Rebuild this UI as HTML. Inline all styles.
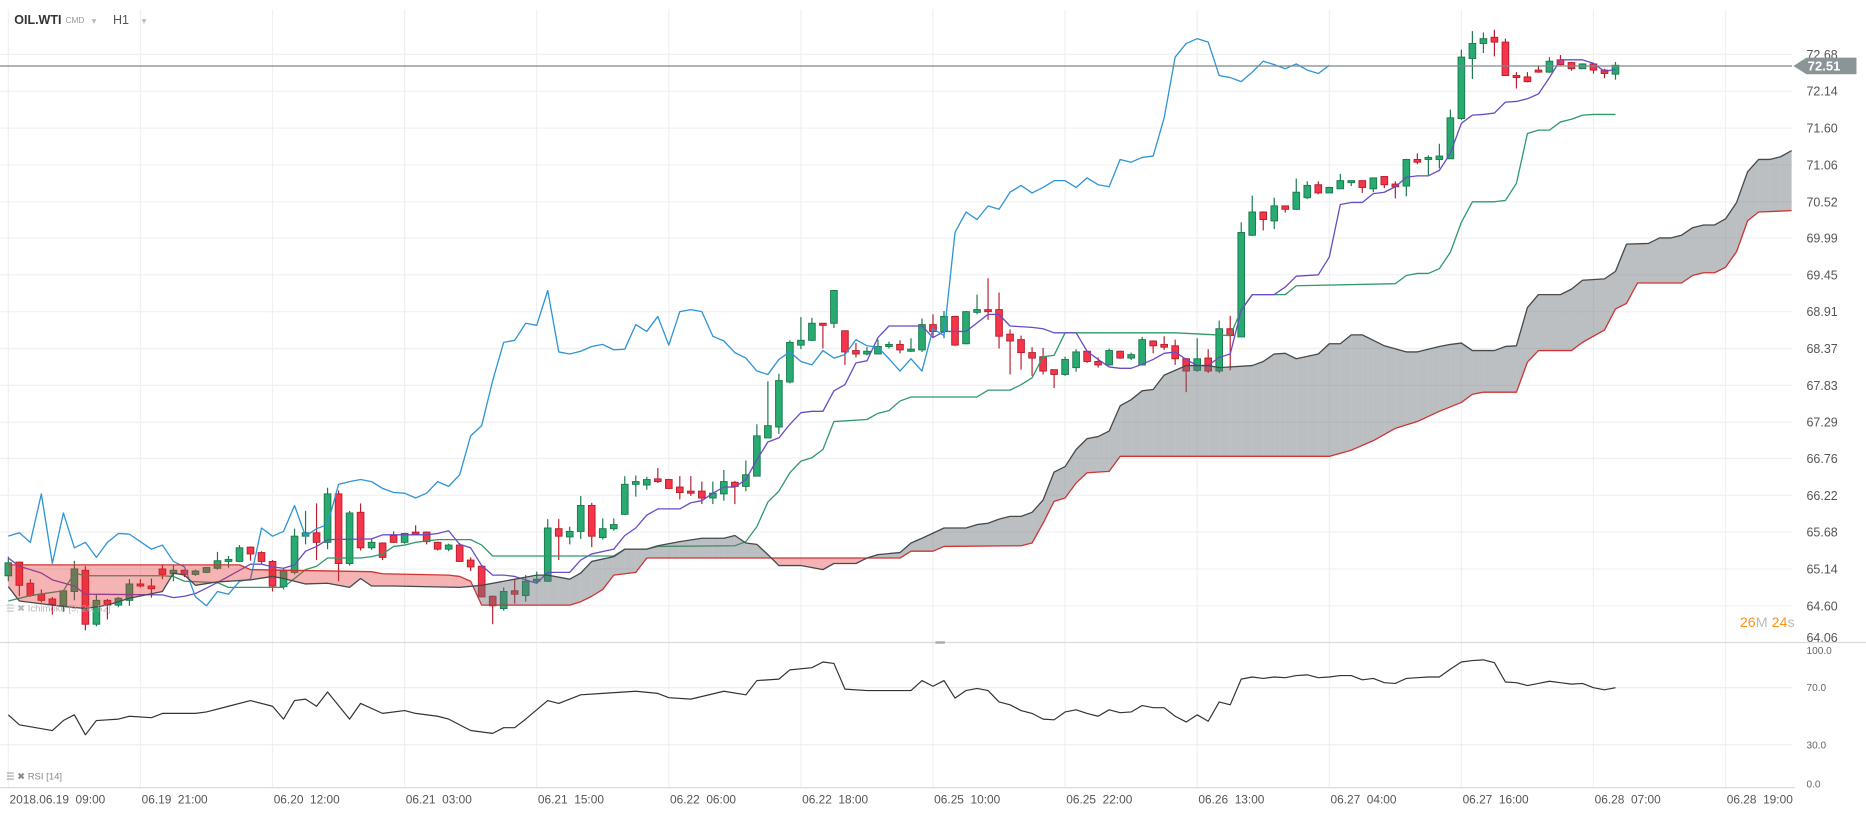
<!DOCTYPE html>
<html><head><meta charset="utf-8"><style>
html,body{margin:0;padding:0;background:#fff;overflow:hidden}
svg{display:block;font-family:"Liberation Sans",sans-serif}
</style></head><body>
<svg id="chart" width="1866" height="815" viewBox="0 0 1568 685" preserveAspectRatio="none" xmlns="http://www.w3.org/2000/svg">
<defs><clipPath id="plotClip"><rect x="0" y="22" width="1506" height="518"/></clipPath></defs>
<rect x="0" y="0" width="1568" height="685" fill="#fff"/>
<g>
<text x="12" y="20" font-size="10.5" font-weight="bold" fill="#333">OIL.WTI</text>
<text x="55" y="19.5" font-size="7" fill="#999">CMD</text>
<text x="77" y="20" font-size="8" fill="#bbb">▾</text>
<text x="95" y="20" font-size="10.5" fill="#555">H1</text>
<text x="119" y="20" font-size="8" fill="#bbb">▾</text>
</g>
<g id="grid"></g>
<g id="plot" clip-path="url(#plotClip)"></g>
<g id="rsi"></g>
<g id="axes"></g>
<line x1="0" y1="540" x2="1568" y2="540" stroke="#dcdcdc" stroke-width="1"/>
<rect x="786" y="539" width="8" height="2" fill="#aaa"/>
<line x1="0" y1="662" x2="1508" y2="662" stroke="#dcdcdc" stroke-width="1"/>
<text x="5" y="514" font-size="8" fill="#aaa" opacity="0.85">☰ ✖ Ichimoku [9, 26, 52]</text>
<text x="5" y="655" font-size="8" fill="#888">☰ ✖ RSI [14]</text>
<text x="1462" y="527" font-size="12"><tspan fill="#f7931e">26</tspan><tspan fill="#bbb">M </tspan><tspan fill="#f7931e">24</tspan><tspan fill="#bbb">s</tspan></text>
</svg>
<script>
const opens=[65.04,65.24,64.93,64.77,64.70,64.60,64.81,65.12,64.33,64.68,64.61,64.68,64.92,64.89,65.14,65.07,65.12,65.06,65.09,65.15,65.25,65.25,65.46,65.38,65.25,64.88,65.09,65.62,65.67,65.53,66.24,65.22,65.97,65.45,65.52,65.63,65.53,65.68,65.68,65.53,65.43,65.49,65.27,65.18,64.74,64.56,64.82,64.75,64.96,64.96,65.73,
65.61,65.69,66.07,65.60,65.73,65.94,66.38,66.37,66.46,66.45,66.34,66.28,66.28,66.18,66.24,66.41,66.35,66.50,67.06,67.22,67.88,68.42,68.49,68.74,68.74,68.63,68.34,68.29,68.29,68.40,68.43,68.33,68.35,68.72,68.62,68.84,68.44,68.90,68.94,68.94,68.58,68.50,68.31,68.25,68.06,67.99,68.09,68.33,68.18,68.13,68.33,68.23,68.13,68.48,68.43,68.41,68.22,68.05,68.23,68.04,68.66,
68.54,70.03,70.37,70.24,70.46,70.41,70.58,70.77,70.65,70.71,70.80,70.83,70.71,70.89,70.78,70.75,71.14,71.14,71.14,71.15,71.74,72.62,72.84,72.93,72.86,72.37,72.35,72.45,72.42,72.60,72.56,72.47,72.54,72.45,72.39];
const highs=[65.32,65.25,64.99,64.84,64.73,64.83,65.26,65.18,64.77,64.70,64.73,64.99,64.99,65.00,65.20,65.20,65.13,65.13,65.17,65.39,65.33,65.49,65.47,65.40,65.27,65.16,65.73,65.99,66.10,66.33,66.29,65.99,66.10,65.58,65.53,65.69,65.67,65.78,65.69,65.54,65.51,65.52,65.31,65.20,64.75,64.87,64.98,65.05,65.10,65.87,65.87,
65.76,66.21,66.11,65.88,65.88,66.50,66.51,66.49,66.62,66.46,66.50,66.50,66.42,66.42,66.59,66.43,66.73,67.26,67.89,68.00,68.49,68.83,68.82,68.74,69.23,68.63,68.45,68.39,68.50,68.47,68.49,68.52,68.81,68.87,68.92,68.85,68.92,69.16,69.40,69.19,68.65,68.56,68.39,68.38,68.06,68.25,68.36,68.34,68.24,68.37,68.34,68.31,68.54,68.49,68.55,68.50,68.23,68.52,68.36,68.78,68.85,
70.22,70.61,70.38,70.58,70.46,70.86,70.82,70.82,70.74,70.93,70.83,70.83,70.87,70.89,70.82,71.15,71.23,71.20,71.37,71.87,72.75,73.02,73.00,73.04,72.91,72.42,72.42,72.52,72.64,72.67,72.57,72.55,72.55,72.47,72.57];
const lows=[64.96,64.74,64.73,64.65,64.47,64.51,64.68,64.24,64.30,64.40,64.58,64.60,64.87,64.72,64.99,64.96,65.02,65.04,65.08,65.13,65.16,65.24,65.26,65.22,64.81,64.84,65.06,65.50,65.27,65.43,64.96,65.19,65.41,65.42,65.27,65.52,65.51,65.64,65.50,65.41,65.40,65.25,65.11,64.73,64.33,64.53,64.63,64.66,64.93,64.95,65.27,
65.50,65.58,65.46,65.57,65.70,65.93,66.20,66.30,66.40,66.31,66.16,66.21,66.09,66.09,66.14,66.09,66.28,66.50,67.06,67.12,67.86,68.36,68.48,68.37,68.67,68.13,68.24,68.27,68.29,68.37,68.30,68.32,68.32,68.54,68.52,68.41,68.43,68.87,68.79,68.37,67.99,68.06,67.97,67.99,67.79,67.97,68.03,68.16,68.09,68.12,68.22,68.20,68.12,68.30,68.35,68.13,67.73,68.03,68.01,68.01,68.05,
68.54,70.02,70.10,70.12,70.36,70.40,70.56,70.63,70.65,70.71,70.75,70.65,70.66,70.72,70.57,70.60,71.07,70.91,71.01,71.15,71.72,72.32,72.70,72.65,72.37,72.18,72.27,72.41,72.41,72.52,72.44,72.47,72.40,72.33,72.31];
const closes=[65.23,64.90,64.75,64.68,64.62,64.82,65.14,64.33,64.68,64.61,64.71,64.92,64.89,64.85,65.06,65.12,65.06,65.11,65.16,65.26,65.28,65.45,65.36,65.25,64.89,65.11,65.62,65.67,65.53,66.24,65.22,65.96,65.45,65.53,65.31,65.53,65.66,65.65,65.54,65.43,65.49,65.25,65.17,64.73,64.60,64.81,64.77,64.96,64.99,65.74,65.62,
65.69,66.07,65.62,65.73,65.79,66.38,66.42,66.45,66.42,66.32,66.26,66.25,66.18,66.25,66.42,66.35,66.52,67.09,67.24,67.90,68.46,68.49,68.74,68.71,69.22,68.32,68.29,68.33,68.40,68.43,68.35,68.36,68.72,68.62,68.84,68.42,68.91,68.94,68.91,68.55,68.48,68.31,68.23,68.04,67.99,68.21,68.32,68.18,68.13,68.34,68.23,68.28,68.50,68.41,68.39,68.22,68.04,68.22,68.04,68.66,68.56,
70.07,70.37,70.26,70.46,70.41,70.66,70.76,70.65,70.73,70.83,70.83,70.73,70.87,70.77,70.74,71.14,71.10,71.17,71.19,71.75,72.64,72.84,72.91,72.86,72.37,72.34,72.28,72.42,72.58,72.53,72.47,72.54,72.45,72.40,72.52];

const tenkanIdx=[0,1,3,4,6,7,14,15,16,17,18,19,20,21,22,23,24,25,26,27,28,29,33,34,38,39,40,41,42,43,44,45,46,47,48,49,51,52,53,55,56,57,58,59,61,62,63,64,65,66,67,68,69,70,71,72,73,74,75,76,77,78,79,80,83,84,85,87,89,90,91,93,94,95,97,98,99,100,101,102,103,104,105,106,107,108,109,110,111,112,113,115,116,117,119,120,121,122,123,124,125,126,127,128,129,130,131,132,133,134,135,136,137,138,139,140,141,143,144,145,146];
const tenkanVal=[65.30,65.18,65.08,64.98,64.89,64.77,64.76,64.72,64.74,64.78,64.86,64.94,65.03,65.12,65.21,65.21,65.17,65.15,65.20,65.40,65.47,65.57,65.58,65.64,65.64,65.66,65.70,65.50,65.45,65.19,65.05,65.05,65.03,64.98,64.93,65.09,65.09,65.27,65.36,65.43,65.63,65.74,65.93,66.02,66.02,66.11,66.14,66.25,66.34,66.34,66.45,66.74,67.00,67.06,67.26,67.43,67.45,67.45,67.75,67.84,68.16,68.19,68.53,68.70,68.70,68.53,68.62,68.62,68.87,68.87,68.70,68.68,68.66,68.60,68.60,68.33,68.21,68.10,68.08,68.08,68.14,68.21,68.30,68.32,68.21,68.12,68.12,68.24,68.29,68.93,69.16,69.16,69.27,69.43,69.45,69.71,70.48,70.51,70.51,70.64,70.66,70.74,70.88,70.90,70.90,70.98,71.23,71.67,71.79,71.80,71.82,71.98,71.99,72.03,72.10,72.34,72.60,72.60,72.55,72.43,72.46];

const kijunIdx=[0,2,5,6,7,14,15,16,19,20,25,26,27,28,29,32,33,34,35,36,37,39,42,43,44,55,56,58,59,66,67,68,69,70,71,72,73,74,75,78,79,80,81,82,88,89,91,92,93,94,95,96,106,111,112,113,116,117,126,127,128,129,130,131,132,133,135,136,137,138,139,140,141,142,143,144,146];
const kijunVal=[64.67,64.75,64.82,65.08,65.04,65.04,65.03,64.96,64.94,64.87,64.87,65.00,65.13,65.18,65.30,65.30,65.32,65.36,65.47,65.49,65.53,65.57,65.57,65.49,65.33,65.33,65.43,65.43,65.47,65.48,65.54,65.76,66.12,66.28,66.55,66.72,66.77,66.89,67.30,67.33,67.42,67.46,67.60,67.66,67.66,67.76,67.76,67.84,67.94,68.25,68.27,68.60,68.60,68.56,68.93,69.16,69.16,69.29,69.32,69.44,69.47,69.47,69.54,69.78,70.22,70.52,70.52,70.54,70.79,71.52,71.57,71.57,71.69,71.73,71.79,71.80,71.80];

const spanAIdx=[0,1,5,7,9,11,14,15,16,17,19,22,24,25,27,29,31,32,33,35,41,43,45,48,49,51,52,53,55,56,58,59,61,63,65,66,67,68,69,70,72,74,75,77,78,79,81,82,83,85,87,88,89,90,91,92,93,94,95,96,97,98,99,100,101,102,103,104,105,107,109,110,113,114,115,116,117,119,120,121,122,123,124,125,127,128,130,131,132,133,135,136,137,138,139,141,142,143,145,146,147,149,150,151,152,153,154,155,156,157,158,159,160,161,162];
const spanAVal=[64.88,64.67,64.59,64.56,64.61,64.71,64.81,65.08,65.05,64.90,64.95,64.98,65.03,65.00,64.92,64.93,64.87,65.00,64.89,64.89,64.87,64.90,64.96,65.05,65.05,64.99,65.08,65.25,65.32,65.43,65.43,65.48,65.54,65.59,65.59,65.63,65.52,65.50,65.35,65.19,65.19,65.13,65.22,65.22,65.30,65.35,65.38,65.52,65.59,65.74,65.74,65.79,65.81,65.87,65.91,65.91,65.97,66.15,66.56,66.64,66.89,67.05,67.08,67.16,67.53,67.62,67.75,67.77,67.98,68.12,68.12,68.09,68.12,68.18,68.29,68.30,68.22,68.29,68.44,68.44,68.57,68.57,68.49,68.41,68.32,68.32,68.40,68.43,68.45,68.34,68.34,68.40,68.41,68.97,69.16,69.16,69.24,69.37,69.39,69.50,69.90,69.91,69.99,69.99,70.03,70.14,70.18,70.18,70.27,70.51,70.96,71.14,71.14,71.18,71.27];

const spanBIdx=[0,21,22,33,34,40,41,42,43,51,52,53,54,55,57,58,81,82,84,85,92,93,94,95,96,97,98,100,101,120,122,124,126,128,130,132,133,134,137,138,139,142,143,145,146,147,148,152,153,154,155,156,157,158,159,162];
const spanBVal=[65.20,65.20,65.13,65.10,65.07,65.05,65.03,64.96,64.61,64.61,64.66,64.74,64.84,65.05,65.09,65.30,65.30,65.40,65.40,65.47,65.48,65.52,65.81,66.13,66.18,66.40,66.55,66.57,66.79,66.79,66.88,67.02,67.20,67.30,67.45,67.58,67.70,67.73,67.73,68.17,68.34,68.34,68.46,68.64,68.95,69.03,69.33,69.33,69.44,69.48,69.48,69.56,69.79,70.24,70.37,70.39];

const rsiIdx=[0,1,4,5,6,7,8,10,11,13,14,17,18,20,22,24,25,26,27,28,29,31,32,34,36,37,39,40,42,44,45,46,47,49,50,52,54,57,59,60,62,65,67,68,70,71,73,74,75,76,78,
81,82,83,84,85,86,87,88,89,90,91,92,93,94,95,96,97,98,99,100,101,102,103,104,105,106,107,108,109,110,111,112,113,114,115,116,117,118,119,120,121,122,123,124,125,126,127,128,129,130,131,132,133,134,135,136,137,138,139,140,141,142,143,144,145,146];
const rsiVal=[51,44,40,47,51,37,47,48,50,49,52,52,53,57,61,57,48,61,62,57,67,48,59,52,54,52,50,48,40,38,42,42,48,61,59,65,66,67.5,66,63,62,67.5,65,75,76,82.5,84,88,87,69,68,
68,68,75,71,75,62.7,68,69.5,68,60,58,54,52,48,47.5,53,54.5,52,50,54.5,52.5,53,57.5,56,56,50,46,51,46.5,60,58,76,77.5,76.5,77.5,77,78.5,79,77,77.5,78.5,78.5,75.5,76.5,73.5,73,76.5,77,77.5,77.5,83,88,89,89.5,87.5,74,73.5,71.5,73,74.5,73.5,72.5,73,70,68.5,70];

const priceTicks=[72.68,72.14,71.60,71.06,70.52,69.99,69.45,68.91,68.37,67.83,67.29,66.76,66.22,65.68,65.14,64.60];
const priceTickBottom=64.06;
const rsiTicks=[100,70,30,0];
const rsiTickLabels=["100.0","70.0","30.0","0.0"];
const timeTickIdx=[0,12,24,36,48,60,72,84,96,108,120,132,144,156];
const timeTickLabels=["2018.06.19  09:00","06.19  21:00","06.20  12:00","06.21  03:00","06.21  15:00","06.22  06:00","06.22  18:00","06.25  10:00","06.25  22:00","06.26  13:00","06.27  04:00","06.27  16:00","06.28  07:00","06.28  19:00"];
const lastPrice=72.51;
const chikouShift=26;

const NS='http://www.w3.org/2000/svg';
const xOf=i=>7+i*9.25;
const yP=p=>45.7+(72.68-p)*57.36;
const yR=v=>662-1.2*v;
function el(tag,parent){const e=document.createElementNS(NS,tag);parent.appendChild(e);return e;}
function interp(ix,vals,i){if(i<=ix[0])return vals[0];for(let k=1;k<ix.length;k++){if(i<=ix[k]){const t=(i-ix[k-1])/(ix[k]-ix[k-1]);return vals[k-1]+t*(vals[k]-vals[k-1]);}}return vals[vals.length-1];}
function knotPath(ix,vals,yf){return ix.map((i,k)=>(k?'L':'M')+xOf(i).toFixed(2)+' '+yf(vals[k]).toFixed(2)).join(' ');}

const grid=document.getElementById('grid');
const plot=document.getElementById('plot');
const rsi=document.getElementById('rsi');
const axes=document.getElementById('axes');

// grid
priceTicks.forEach(p=>{const l=el('line',grid);


l.setAttribute('x1',0);l.setAttribute('x2',1506);l.setAttribute('y1',yP(p));l.setAttribute('y2',yP(p));l.setAttribute('stroke','#f0f0f0');l.setAttribute('stroke-width','1');});
timeTickIdx.forEach(i=>{const l=el('line',grid);


l.setAttribute('x1',xOf(i));l.setAttribute('x2',xOf(i));l.setAttribute('y1',8);l.setAttribute('y2',662);l.setAttribute('stroke','#f0f0f0');l.setAttribute('stroke-width','1');});
rsiTicks.slice(1,3).forEach(v=>{const l=el('line',grid);


l.setAttribute('x1',0);l.setAttribute('x2',1506);l.setAttribute('y1',yR(v));l.setAttribute('y2',yR(v));l.setAttribute('stroke','#ededed');l.setAttribute('stroke-width','1');});

// candles
for(let i=0;i<closes.length;i++){
 const up=closes[i]>=opens[i];
 const g=el('g',plot);
 
 
 const w=el('line',g);
 
 
 w.setAttribute('x1',xOf(i));w.setAttribute('x2',xOf(i));w.setAttribute('y1',yP(highs[i]));w.setAttribute('y2',yP(lows[i]));
 w.setAttribute('stroke',up?'#1b7a4e':'#b81f2d');w.setAttribute('stroke-width','1');
 const top=yP(Math.max(opens[i],closes[i])),bot=yP(Math.min(opens[i],closes[i]));
 const r=el('rect',g);
 
 
 r.setAttribute('x',xOf(i)-2.8);r.setAttribute('width',5.6);r.setAttribute('y',top);r.setAttribute('height',Math.max(1.5,bot-top));
 r.setAttribute('fill',up?'#27ab70':'#f5364a');r.setAttribute('stroke',up?'#1b7a4e':'#b81f2d');r.setAttribute('stroke-width','0.8');
}

// lines
function addLine(d,name,color,w,parent){const p=el('path',parent||plot);


p.setAttribute('d',d);p.setAttribute('fill','none');p.setAttribute('stroke',color);p.setAttribute('stroke-width',w);p.setAttribute('stroke-linejoin','round');return p;}
addLine(knotPath(kijunIdx,kijunVal,yP),'kijun-sen-line','#2f9a6a',1.1);
addLine(knotPath(tenkanIdx,tenkanVal,yP),'tenkan-sen-line','#6a4cc4',1.1);
let cd='';for(let i=0;i+chikouShift<closes.length;i++){cd+=(i?'L':'M')+xOf(i).toFixed(2)+' '+yP(closes[i+chikouShift]).toFixed(2)+' ';}
addLine(cd,'chikou-span-line','#2d95d6',1.1);

// cloud fill
const cloud=el('g',plot);


const lastCloud=spanAIdx[spanAIdx.length-1];
function seg(i0,i1){const a0=interp(spanAIdx,spanAVal,i0),a1=interp(spanAIdx,spanAVal,i1),b0=interp(spanBIdx,spanBVal,i0),b1=interp(spanBIdx,spanBVal,i1);
 const d0=a0-b0,d1=a1-b1;
 if(d0*d1<0){const t=d0/(d0-d1);const im=i0+t*(i1-i0);poly(i0,im,a0,a0+t*(a1-a0),b0,b0+t*(b1-b0),d0>0);poly(im,i1,a0+t*(a1-a0),a1,b0+t*(b1-b0),b1,d1>0);}
 else poly(i0,i1,a0,a1,b0,b1,(d0+d1)>=0);}
function poly(i0,i1,a0,a1,b0,b1,bull){const p=el('polygon',cloud);
 
 
 p.setAttribute('points',[xOf(i0),yP(a0),xOf(i1),yP(a1),xOf(i1),yP(b1),xOf(i0),yP(b0)].map(v=>v.toFixed(2)).join(' '));
 p.setAttribute('fill',bull?'rgba(105,112,117,0.45)':'rgba(228,45,45,0.36)');p.setAttribute('stroke','none');}
for(let i=0;i<lastCloud;i++)seg(i,i+1);
addLine(knotPath(spanBIdx,spanBVal,yP),'senkou-span-b-line','#cf3434',1.1);
addLine(knotPath(spanAIdx,spanAVal,yP),'senkou-span-a-line','#454a4e',1.1);

// last price line
const pl=el('line',plot);


pl.setAttribute('x1',0);pl.setAttribute('x2',1506);pl.setAttribute('y1',yP(lastPrice));pl.setAttribute('y2',yP(lastPrice));pl.setAttribute('stroke','#7f878c');pl.setAttribute('stroke-width','1');

// price axis labels
priceTicks.forEach(p=>{const t=el('text',axes);


t.setAttribute('x',1518);t.setAttribute('y',yP(p)+3.8);t.setAttribute('font-size','10.5');t.setAttribute('fill','#555');t.textContent=p.toFixed(2);});
const tb=el('text',axes);


tb.setAttribute('x',1518);tb.setAttribute('y',539.5);tb.setAttribute('font-size','10.5');tb.setAttribute('fill','#555');tb.textContent=priceTickBottom.toFixed(2);

// price tag
const ty=yP(lastPrice);
const tag=el('polygon',axes);


tag.setAttribute('points',`1507,${ty} 1518,${ty-7} 1560,${ty-7} 1560,${ty+7} 1518,${ty+7}`);tag.setAttribute('fill','#8b9497');
const tt=el('text',axes);


tt.setAttribute('x',1519);tt.setAttribute('y',ty+4);tt.setAttribute('font-size','11');tt.setAttribute('font-weight','bold');tt.setAttribute('fill','#fff');tt.textContent=lastPrice.toFixed(2);

// time labels
timeTickIdx.forEach((i,k)=>{const t=el('text',axes);


t.setAttribute('x',xOf(i)+1);t.setAttribute('y',675.5);t.setAttribute('font-size','10');t.setAttribute('fill','#555');t.setAttribute('xml:space','preserve');t.style.whiteSpace='pre';t.textContent=timeTickLabels[k];});

// RSI
addLine(knotPath(rsiIdx,rsiVal,yR),'rsi-line','#333',1,rsi);
rsiTicks.forEach((v,k)=>{const t=el('text',axes);


let y=yR(v)+3;if(v===100)y=549.5;if(v===0)y=662;
t.setAttribute('x',1518);t.setAttribute('y',y);t.setAttribute('font-size','8.5');t.setAttribute('fill','#666');t.textContent=rsiTickLabels[k];});
</script>
</body></html>
